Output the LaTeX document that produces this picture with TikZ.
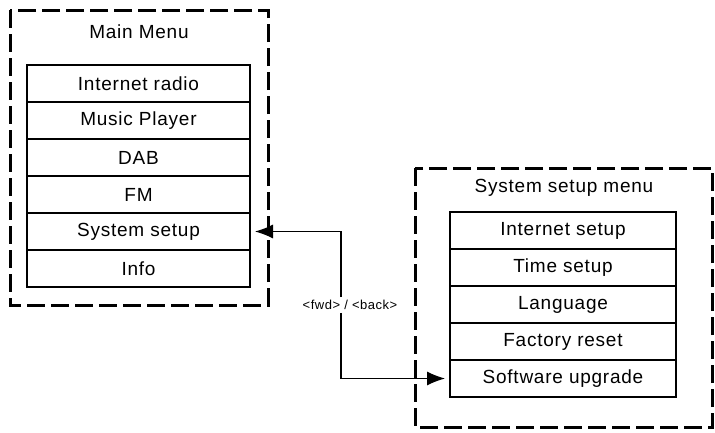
\documentclass[tikz,border=0pt]{standalone}
\usepackage{fontspec}
\setmainfont{Liberation Sans}[LetterSpace=4]
\usetikzlibrary{positioning,arrows.meta}

\begin{document}
\begin{tikzpicture}[
        x=1pt, y=-1pt,
        font=\fontsize{19}{21}\selectfont,
        item/.style={rectangle, draw, line width=1.1pt, minimum width=#1, minimum height=37pt, inner sep=0pt, outer sep=0pt},
        frame/.style={draw, line width=3pt, dash pattern=on 18pt off 6pt},
        arrow/.style={-{Latex[length=18pt,width=14pt]}, line width=1.1pt}
    ]
        \useasboundingbox (0,0) rectangle (715,432);

        % main menu
        \draw[frame] (10,10) rectangle (268,305);
        \node (mtitle) at (139,32) {Main Menu};
        \node[item=223pt, anchor=north west] (m1) at (27,65) {Internet radio};
        \node[item=223pt, below=0pt of m1] (m2) {Music Player};
        \node[item=223pt, below=0pt of m2] (m3) {DAB};
        \node[item=223pt, below=0pt of m3] (m4) {FM};
        \node[item=223pt, below=0pt of m4] (m5) {System setup};
        \node[item=223pt, below=0pt of m5] (m6) {Info};

        % system setup menu
        \draw[frame] (415,168) rectangle (712,427);
        \node (stitle) at (564,188) {System setup menu};
        \node[item=226pt, anchor=north west] (s1) at (450,212) {Internet setup};
        \node[item=226pt, below=0pt of s1] (s2) {Time setup};
        \node[item=226pt, below=0pt of s2] (s3) {Language};
        \node[item=226pt, below=0pt of s3] (s4) {Factory reset};
        \node[item=226pt, below=0pt of s4] (s5) {Software upgrade};

        \node[font=\fontsize{13}{15}\selectfont, inner sep=3pt] (nav) at (350,305) {<fwd> / <back>};
        \coordinate (navx) at (341,305);
        \draw[arrow] (navx |- nav.north) |- ([xshift=5pt]m5.east);
        \draw[arrow] (navx |- nav.south) |- ([xshift=-5pt]s5.west);
    \end{tikzpicture}
\end{document}
